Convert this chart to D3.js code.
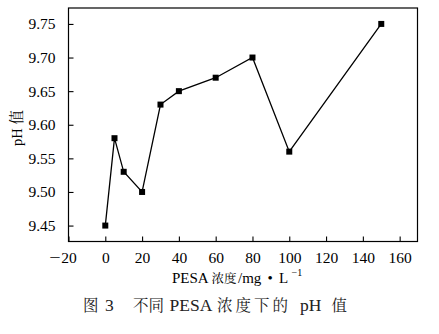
<!DOCTYPE html>
<html><head><meta charset="utf-8">
<script src="https://cdn.jsdelivr.net/npm/d3@7"></script>
<style>body{margin:0;background:#fff;} svg{display:block;} text{font-family:"Liberation Serif","Noto Serif CJK SC","Noto Sans CJK SC",serif;}</style>
</head><body>
<script>
const concentrations = [0, 5, 10, 20, 30, 40, 60, 80, 100, 150];
const phValues = [9.45, 9.58, 9.53, 9.50, 9.63, 9.65, 9.67, 9.70, 9.56, 9.75];
const xTicks = [-20, 0, 20, 40, 60, 80, 100, 120, 140, 160];
const yTicks = [9.45, 9.50, 9.55, 9.60, 9.65, 9.70, 9.75];

const W = 439, H = 334;
const L = 68.5, R = 417.5, T = 8, B = 241.5;

const svg = d3.select("body").append("svg").attr("width", W).attr("height", H);
const x = d3.scaleLinear().domain([-20, 169.7]).range([L, R]);
const y = d3.scaleLinear().domain([9.4263, 9.7737]).range([B, T]);

svg.append("rect").attr("x", L).attr("y", T).attr("width", R - L).attr("height", B - T)
  .attr("fill", "none").attr("stroke", "#000").attr("stroke-width", 1.2);

const xAxis = svg.append("g").attr("transform", `translate(0,${B})`)
  .call(d3.axisBottom(x).tickValues(xTicks).tickSizeInner(-5).tickSizeOuter(0).tickPadding(10)
    .tickFormat(d => Math.abs(d)));
xAxis.attr("font-family", null);
xAxis.select(".domain").remove();
xAxis.selectAll("line").attr("stroke", "#000").attr("stroke-width", 1.1);
xAxis.selectAll("text").attr("font-size", 15.5).attr("fill", "#000");
xAxis.selectAll(".tick").filter(d => d < 0).append("text")
  .attr("transform", "translate(-8.5,10) scale(1.3,1)")
  .attr("dy", "0.71em").attr("text-anchor", "end").attr("font-size", 15.5).attr("fill", "#000")
  .text("\u2212");

const yAxis = svg.append("g").attr("transform", `translate(${L},0)`)
  .call(d3.axisLeft(y).tickValues(yTicks).tickSizeInner(-5).tickSizeOuter(0).tickPadding(13)
    .tickFormat(d3.format(".2f")));
yAxis.attr("font-family", null);
yAxis.select(".domain").remove();
yAxis.selectAll("line").attr("stroke", "#000").attr("stroke-width", 1.1);
yAxis.selectAll("text").attr("font-size", 15.5).attr("fill", "#000");

const line = d3.line().x((d, i) => x(concentrations[i])).y(d => y(d));
svg.append("path").datum(phValues).attr("d", line).attr("fill", "none")
  .attr("stroke", "#000").attr("stroke-width", 1.3);

svg.selectAll("rect.m").data(phValues).enter().append("rect").attr("class", "m")
  .attr("x", (d, i) => x(concentrations[i]) - 3).attr("y", d => y(d) - 3)
  .attr("width", 6).attr("height", 6).attr("fill", "#000");

// x axis title
const xt = svg.append("text").attr("y", 283).attr("font-size", 15).attr("fill", "#000");
[
  {t: "PESA", x: 172},
  {t: "浓度", x: 211.5, fs: 12.5},
  {t: "/mg", x: 238},
  {t: "•", x: 267.5},
  {t: "L", x: 279}
].forEach(p => xt.append("tspan").attr("x", p.x).attr("font-size", p.fs || 15).text(p.t));
xt.append("tspan").attr("x", 291.5).attr("dy", -7).attr("font-size", 10).text("\u22121");

// y axis title
svg.append("text").attr("transform", "translate(22,128) rotate(-90)").attr("text-anchor", "middle")
  .attr("font-size", 14.5).attr("fill", "#000").text("pH 值");

// caption
const cap = svg.append("text").attr("y", 311).attr("fill", "#222");
[
  {t: "图", x: 83, cjk: true},
  {t: "3", x: 105, cjk: false},
  {t: "不同", x: 133, cjk: true},
  {t: "PESA", x: 169.5, cjk: false},
  {t: "浓度下的", x: 217, cjk: true, ls: 3},
  {t: "pH", x: 300, cjk: false},
  {t: "值", x: 331.5, cjk: true}
].forEach(p => {
  cap.append("tspan").attr("x", p.x).attr("font-size", p.cjk ? 15.5 : 17.5)
    .attr("letter-spacing", p.ls || 0).text(p.t);
});
</script>
</body></html>
